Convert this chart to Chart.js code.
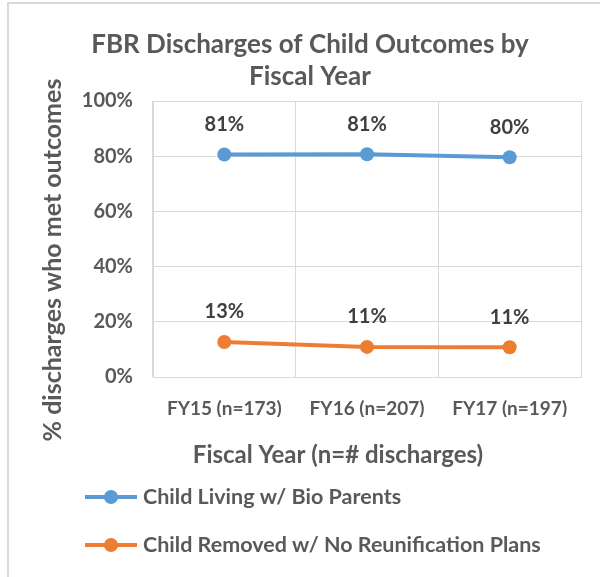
<!DOCTYPE html>
<html>
<head>
<meta charset="utf-8">
<script src="https://cdn.jsdelivr.net/npm/chart.js@4"></script>
<style>
  html, body { margin: 0; padding: 0; background: #fff; }
  #wrap { position: relative; width: 600px; height: 577px; }
</style>
</head>
<body>
<div id="wrap"><canvas id="fbrChart"></canvas></div>
<script>
// data
const fiscalYears = ['FY15 (n=173)', 'FY16 (n=207)', 'FY17 (n=197)'];
const livingWithParents = [80.6, 80.7, 79.6];
const removedNoReunification = [12.7, 10.9, 10.8];
const seriesNames = ['Child Living w/ Bio Parents', 'Child Removed w/ No Reunification Plans'];
const yTicks = [0, 20, 40, 60, 80, 100];

const FONT = 'Lato, "Open Sans", sans-serif';
const TEXT = '#595959';
const GRID = '#D9D9D9';
const BLUE = '#5B9BD5';
const ORANGE = '#ED7D31';

// titles, frame, legend and point labels
const decorations = {
    id: 'decorations',
    beforeDraw(chart) {
        const ctx = chart.ctx;
        ctx.save();
        ctx.strokeStyle = GRID;
        ctx.lineWidth = 2;
        ctx.beginPath();
        ctx.moveTo(8, 577);
        ctx.lineTo(8, 3);
        ctx.lineTo(600, 3);
        ctx.stroke();
        ctx.restore();
    },
    afterDatasetsDraw(chart) {
        const ctx = chart.ctx;
        ctx.save();
        ctx.fillStyle = TEXT;
        ctx.textAlign = 'center';
        ctx.textBaseline = 'middle';

        // chart title
        ctx.font = 'bold 26px ' + FONT;
        ctx.fillText('FBR Discharges of Child Outcomes by', 310, 45);
        ctx.fillText('Fiscal Year', 310, 77);

        // axis titles
        ctx.font = 'bold 24px ' + FONT;
        ctx.fillText('Fiscal Year (n=# discharges)', 338, 455);
        ctx.save();
        ctx.translate(53, 260);
        ctx.rotate(-Math.PI / 2);
        ctx.font = 'bold 25px ' + FONT;
        ctx.fillText('% discharges who met outcomes', 0, 0);
        ctx.restore();

        // point labels
        ctx.fillStyle = '#404040';
        ctx.font = 'bold 20px ' + FONT;
        chart.data.datasets.forEach((ds, i) => {
            chart.getDatasetMeta(i).data.forEach((pt, j) => {
                ctx.fillText(Math.round(ds.data[j]) + '%', pt.x, pt.y - 30);
            });
        });

        // legend
        const rows = [497, 545];
        chart.data.datasets.forEach((ds, i) => {
            const y = rows[i];
            ctx.strokeStyle = ds.borderColor;
            ctx.lineWidth = 4;
            ctx.beginPath();
            ctx.moveTo(85, y);
            ctx.lineTo(137, y);
            ctx.stroke();
            ctx.fillStyle = ds.borderColor;
            ctx.beginPath();
            ctx.arc(111, y, 7, 0, Math.PI * 2);
            ctx.fill();
            ctx.fillStyle = TEXT;
            ctx.font = 'bold 21.5px ' + FONT;
            ctx.textAlign = 'left';
            ctx.fillText(ds.label, 143, y);
        });
        ctx.restore();
    }
};

const ctx = document.getElementById('fbrChart').getContext('2d');
new Chart(ctx, {
    type: 'line',
    data: {
        labels: fiscalYears,
        datasets: [{
            label: seriesNames[0],
            data: livingWithParents,
            borderColor: BLUE,
            backgroundColor: BLUE,
            borderWidth: 4,
            pointRadius: 7,
            pointBorderWidth: 0,
            tension: 0
        }, {
            label: seriesNames[1],
            data: removedNoReunification,
            borderColor: ORANGE,
            backgroundColor: ORANGE,
            borderWidth: 4,
            pointRadius: 7,
            pointBorderWidth: 0,
            tension: 0
        }]
    },
    options: {
        responsive: true,
        maintainAspectRatio: false,
        animation: false,
        layout: {
            padding: { top: 101, left: 48, right: 19, bottom: 160 }
        },
        plugins: {
            legend: { display: false },
            tooltip: { enabled: false }
        },
        scales: {
            x: {
                offset: true,
                afterFit(scale) { scale.height = 40; },
                grid: { offset: true, color: GRID, drawTicks: false },
                border: { color: GRID },
                ticks: {
                    padding: 20,
                    color: TEXT,
                    font: { family: FONT, size: 19, weight: 'bold' }
                }
            },
            y: {
                min: 0,
                max: 100,
                afterFit(scale) { scale.width = 105; },
                afterBuildTicks(scale) { scale.ticks = yTicks.map(v => ({ value: v })); },
                grid: { color: GRID, drawTicks: false },
                border: { color: GRID },
                ticks: {
                    padding: 20,
                    color: TEXT,
                    font: { family: FONT, size: 20, weight: 'bold' },
                    callback: v => v + '%'
                }
            }
        }
    },
    plugins: [decorations]
});
</script>
</body>
</html>
